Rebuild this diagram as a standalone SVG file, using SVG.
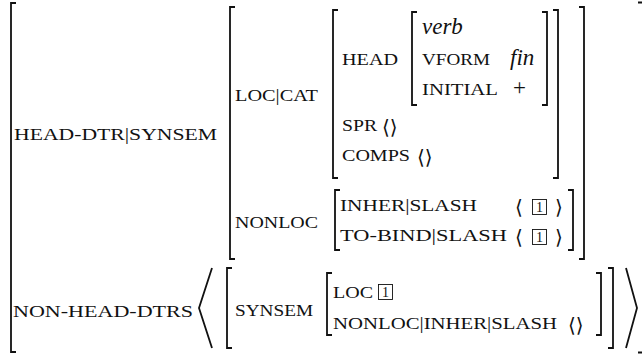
<svg xmlns="http://www.w3.org/2000/svg" width="642" height="355" viewBox="0 0 642 355">
<style>
.b{fill:none;stroke:#111;stroke-width:1.8;stroke-linecap:butt;stroke-linejoin:miter}
.sc{font-family:"Liberation Serif",serif;font-size:17px;fill:#111}
.it{font-family:"Liberation Serif",serif;font-size:23px;font-style:italic;fill:#111}
.rm{font-family:"Liberation Serif",serif;font-size:23px;fill:#111}
.ang{font-family:"DejaVu Serif","DejaVu Sans",serif;font-size:20px;fill:#111}
.tag{fill:none;stroke:#111;stroke-width:0.9}
.num{font-family:"Liberation Serif",serif;font-size:14px;fill:#111;text-anchor:middle}
</style>
<rect width="642" height="355" fill="#fff"/>
<g id="outer">
<path class="b" d="M16 3H11V352H16"/>
<path class="b" d="M638 2.5H644M638 352.5H644"/>
<text class="sc" x="14" y="140" textLength="203" lengthAdjust="spacingAndGlyphs">HEAD-DTR|SYNSEM</text>
<text class="sc" x="13" y="317" textLength="180" lengthAdjust="spacingAndGlyphs">NON-HEAD-DTRS</text>
</g>
<g id="synsem">
<path class="b" d="M235 7H230V259H235"/>
<path class="b" d="M579 7H584V259H579"/>
<text class="sc" x="235" y="101" textLength="83" lengthAdjust="spacingAndGlyphs">LOC|CAT</text>
<text class="sc" x="235" y="228" textLength="83" lengthAdjust="spacingAndGlyphs">NONLOC</text>
</g>
<g id="cat">
<path class="b" d="M338 10H333V178H338"/>
<path class="b" d="M553 10H558V178H553"/>
<text class="sc" x="342" y="65" textLength="56" lengthAdjust="spacingAndGlyphs">HEAD</text>
<text class="sc" x="342" y="131" textLength="35" lengthAdjust="spacingAndGlyphs">SPR</text>
<text class="ang" x="382" y="134">⟨⟩</text>
<text class="sc" x="342" y="161" textLength="68" lengthAdjust="spacingAndGlyphs">COMPS</text>
<text class="ang" x="417" y="164">⟨⟩</text>
</g>
<g id="head">
<path class="b" d="M417 12H412V105H417"/>
<path class="b" d="M542 12H547V105H542"/>
<text class="it" x="422" y="34">verb</text>
<text class="sc" x="422" y="65" textLength="68" lengthAdjust="spacingAndGlyphs">VFORM</text>
<text class="it" x="510" y="65">fin</text>
<text class="sc" x="422" y="95" textLength="76" lengthAdjust="spacingAndGlyphs">INITIAL</text>
<text class="rm" x="513" y="95">+</text>
</g>
<g id="nonloc">
<path class="b" d="M340 190H335V250H340"/>
<path class="b" d="M568 190H573V250H568"/>
<text class="sc" x="340" y="211" textLength="137" lengthAdjust="spacingAndGlyphs">INHER|SLASH</text>
<text class="ang" x="515" y="214">⟨</text>
<rect class="tag" x="532.5" y="199.5" width="14" height="15"/>
<text class="num" x="539.5" y="212">1</text>
<text class="ang" x="555" y="214">⟩</text>
<text class="sc" x="340" y="241" textLength="167" lengthAdjust="spacingAndGlyphs">TO-BIND|SLASH</text>
<text class="ang" x="515" y="244">⟨</text>
<rect class="tag" x="532.5" y="229.5" width="14" height="15"/>
<text class="num" x="539.5" y="242">1</text>
<text class="ang" x="555" y="244">⟩</text>
</g>
<g id="nonhead">
<path class="b" d="M212 268L199 308L212 348"/>
<path class="b" d="M232 268H227V348H232"/>
<text class="sc" x="235" y="316" textLength="78" lengthAdjust="spacingAndGlyphs">SYNSEM</text>
<path class="b" d="M332 273H327V335H332"/>
<text class="sc" x="333" y="298" textLength="40" lengthAdjust="spacingAndGlyphs">LOC</text>
<rect class="tag" x="378.5" y="284.5" width="14" height="15"/>
<text class="num" x="385.5" y="297">1</text>
<text class="sc" x="333" y="329" textLength="224" lengthAdjust="spacingAndGlyphs">NONLOC|INHER|SLASH</text>
<text class="ang" x="568" y="332">⟨⟩</text>
<path class="b" d="M596 273H601V335H596"/>
<path class="b" d="M608 268H613V348H608"/>
<path class="b" d="M626 268L637 308L626 348"/>
</g>
</svg>
